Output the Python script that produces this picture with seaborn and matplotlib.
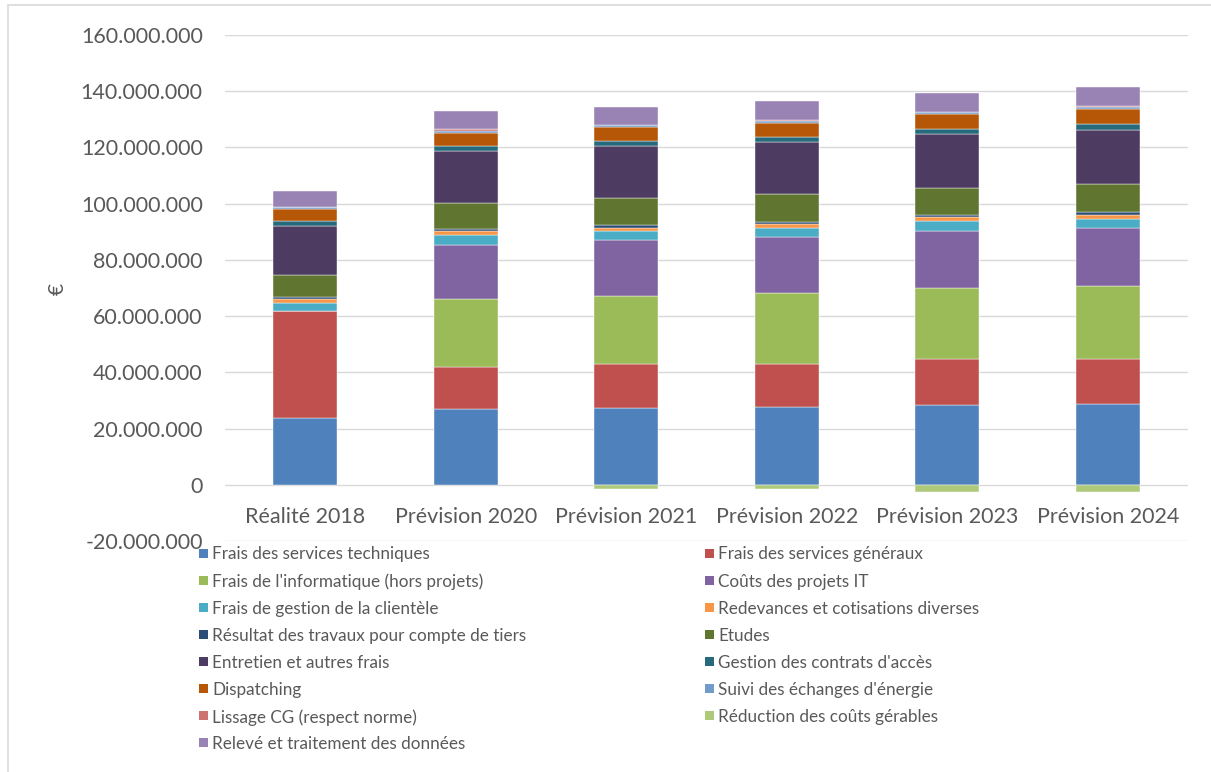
import numpy as np
import pandas as pd
import matplotlib
matplotlib.use("Agg")
import matplotlib.pyplot as plt
from matplotlib.patches import Rectangle
from matplotlib.ticker import FuncFormatter
import seaborn as sns

# ---- data (millions of euros) ----
categories = ["Réalité 2018", "Prévision 2020", "Prévision 2021",
              "Prévision 2022", "Prévision 2023", "Prévision 2024"]

frais_services_techniques = [23.7, 27.0, 27.3, 27.7, 28.4, 28.8]
frais_services_generaux = [38.0, 14.8, 15.6, 15.4, 16.2, 15.9]
frais_informatique = [0.0, 24.3, 24.3, 25.0, 25.3, 26.1]
couts_projets_it = [0.0, 19.3, 19.7, 20.0, 20.5, 20.6]
frais_gestion_clientele = [3.0, 3.4, 3.2, 3.3, 3.3, 3.3]
redevances_cotisations = [1.3, 1.3, 1.3, 1.3, 1.4, 1.3]
resultat_travaux_tiers = [0.8, 0.8, 1.0, 0.9, 0.9, 0.9]
etudes = [8.0, 9.4, 9.5, 9.7, 9.7, 10.1]
entretien_autres_frais = [17.3, 18.3, 18.5, 18.7, 19.1, 19.2]
gestion_contrats_acces = [1.8, 1.8, 1.8, 1.8, 1.8, 2.0]
dispatching = [4.1, 4.9, 5.2, 5.0, 5.2, 5.3]
suivi_echanges_energie = [0.7, 0.6, 0.7, 0.7, 0.7, 0.8]
lissage_cg = [0.0, 0.6, 0.0, 0.3, 0.0, 0.5]
reduction_couts_gerables = [0.0, 0.0, -1.4, -1.5, -2.4, -2.7]
releve_traitement_donnees = [5.7, 6.4, 6.4, 6.6, 6.9, 6.6]

series_names = [
    "Frais des services techniques",
    "Frais des services généraux",
    "Frais de l'informatique (hors projets)",
    "Coûts des projets IT",
    "Frais de gestion de la clientèle",
    "Redevances et cotisations diverses",
    "Résultat des travaux pour compte de tiers",
    "Etudes",
    "Entretien et autres frais",
    "Gestion des contrats d'accès",
    "Dispatching",
    "Suivi des échanges d'énergie",
    "Lissage CG (respect norme)",
    "Réduction des coûts gérables",
    "Relevé et traitement des données",
]
series_values = [
    frais_services_techniques, frais_services_generaux, frais_informatique,
    couts_projets_it, frais_gestion_clientele, redevances_cotisations,
    resultat_travaux_tiers, etudes, entretien_autres_frais,
    gestion_contrats_acces, dispatching, suivi_echanges_energie,
    lissage_cg, reduction_couts_gerables, releve_traitement_donnees,
]
series_colors = [
    "#4F81BD", "#C0504D", "#9BBB59", "#8064A2", "#4BACC6",
    "#F79646", "#2C4D75", "#5F7530", "#4D3B62", "#276A7C",
    "#B65708", "#729ACA", "#CD7371", "#AFC97A", "#9983B5",
]

# ---- figure ----
sns.set_theme(style="white")
plt.rcParams["font.family"] = ["Lato", "DejaVu Sans"]
text_color = "#595959"

W, H = 1211, 772
fig = plt.figure(figsize=(W / 100, H / 100), dpi=100)
ax = fig.add_axes([225 / W, 1 - 541 / H, (1188 - 225) / W, (541 - 35) / H])

pos_bottom = np.zeros(len(categories))
neg_bottom = np.zeros(len(categories))
for name, vals, col in zip(series_names, series_values, series_colors):
    v = np.array(vals, dtype=float) * 1e6
    bottom = np.where(v >= 0, pos_bottom, neg_bottom)
    df = pd.DataFrame({"cat": categories, "val": v})
    sns.barplot(data=df, x="cat", y="val", order=categories, bottom=bottom,
                color=col, saturation=1, width=0.4, errorbar=None,
                edgecolor="white", linewidth=0.3, ax=ax, zorder=3)
    pos_bottom = pos_bottom + np.where(v >= 0, v, 0)
    neg_bottom = neg_bottom + np.where(v < 0, v, 0)

# ---- axes styling ----
ax.set_xlim(-0.5, len(categories) - 0.5)
ax.set_ylim(-20e6, 160e6)
ax.set_yticks(np.arange(-20e6, 160e6 + 1, 20e6))
ax.yaxis.set_major_formatter(FuncFormatter(lambda v, p: f"{int(round(v)):,}".replace(",", ".")))
ax.grid(axis="y", color="#D9D9D9", linewidth=1.0, zorder=0)
ax.grid(axis="x", visible=False)
for s in ax.spines.values():
    s.set_visible(False)
ax.spines["bottom"].set_position(("data", 0))
ax.set_xlabel("")
ax.set_ylabel("")
ax.tick_params(axis="y", length=0, pad=16, labelsize=15.5, labelcolor=text_color)
ax.tick_params(axis="x", length=0, pad=16, labelsize=15.5, labelcolor=text_color)

fig.text(58 / W, 1 - 289 / H, "€", rotation=90, ha="center", va="center",
         fontsize=15, color=text_color)

# ---- legend: two columns, filled row by row ----
col_x = [199, 705]
row_y0, row_step = 553, 27.14
box = 9
for i, (name, col) in enumerate(zip(series_names, series_colors)):
    r, c = divmod(i, 2)
    x0 = col_x[c]
    yc = row_y0 + r * row_step
    fig.patches.append(Rectangle((x0 / W, 1 - (yc + box / 2) / H), box / W, box / H,
                                 transform=fig.transFigure, facecolor=col,
                                 edgecolor="none"))
    fig.text((x0 + box + 4) / W, 1 - yc / H, name, ha="left", va="center_baseline",
             fontsize=12.3, color=text_color)

# chart frame
fig.patches.append(Rectangle((8 / W, -0.01), 1.2, 1 - 5 / H + 0.01, transform=fig.transFigure,
                             fill=False, edgecolor="#D9D9D9", linewidth=1.2))

fig.savefig("out.png", dpi=100)
